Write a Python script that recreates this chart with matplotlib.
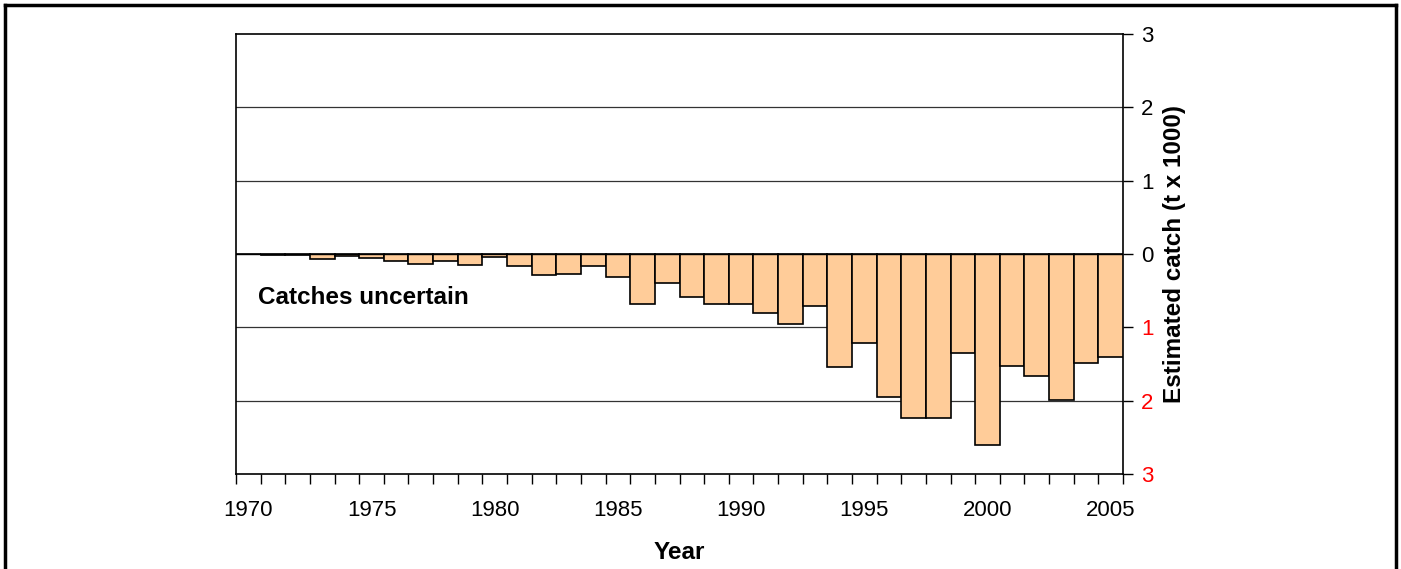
import matplotlib.pyplot as plt
import numpy as np
from matplotlib.lines import Line2D

plt.rcParams["font.family"] = ["Liberation Sans", "DejaVu Sans"]

years = list(range(1970, 2006))
# estimated catch (t x 1000), plotted downwards
catch = [0.00, 0.02, 0.02, 0.07, 0.03, 0.05, 0.09, 0.13, 0.09, 0.15,
         0.045, 0.17, 0.29, 0.27, 0.16, 0.31, 0.68, 0.39, 0.58, 0.68,
         0.68, 0.81, 0.96, 0.71, 1.54, 1.21, 1.95, 2.23, 2.24, 1.35,
         2.60, 1.53, 1.66, 1.99, 1.49, 1.41]
label_years = [1970, 1975, 1980, 1985, 1990, 1995, 2000, 2005]
y_ticks = [-3, -2, -1, 0, 1, 2, 3]

fig = plt.figure(figsize=(14.01, 5.69), dpi=100)
ax = fig.add_axes([236 / 1401, 1 - 474 / 569, 887 / 1401, 440 / 569])

x = np.arange(len(years))
ax.bar(x, [-c for c in catch], width=1.0, color="#FFCC99",
       edgecolor="black", linewidth=1.2, zorder=3)

# gridlines
for v in [-2, -1, 1, 2]:
    ax.axhline(v, color="#333333", linewidth=0.9, zorder=1)
ax.axhline(0, color="black", linewidth=1.0, zorder=4)

ax.set_xlim(-0.5, len(years) - 0.5)
ax.set_ylim(-3, 3)

# category boundaries as ticks, labels at category centres
ax.set_xticks(np.arange(-0.5, len(years), 1.0))
ax.set_xticklabels([])
ax.tick_params(axis="x", which="major", direction="out", length=7, width=1.0)
ax.set_xticks([years.index(y) for y in label_years], minor=True)
ax.set_xticklabels([str(y) for y in label_years], minor=True, fontsize=16)
ax.tick_params(axis="x", which="minor", length=0, pad=19)

ax.yaxis.tick_right()
ax.yaxis.set_label_position("right")
ax.set_yticks(y_ticks)
ax.set_yticklabels([str(abs(v)) for v in y_ticks], fontsize=16)
for lab, v in zip(ax.get_yticklabels(), y_ticks):
    if v < 0:
        lab.set_color("red")
ax.tick_params(axis="y", direction="out", length=7, width=1.0, pad=6)

for sp in ax.spines.values():
    sp.set_linewidth(1.2)

ax.set_xlabel("Year", fontsize=17.5, fontweight="bold", labelpad=14)
ax.set_ylabel("Estimated catch (t x 1000)", fontsize=17.5, fontweight="bold", labelpad=7)

ax.text(0.025, 0.40, "Catches uncertain", transform=ax.transAxes,
        fontsize=17.5, fontweight="bold", va="center", ha="left")

# outer frame (left, top, right)
fig.add_artist(Line2D([5 / 1401, 5 / 1401], [0, 1 - 5 / 569], color="black", lw=2.5))
fig.add_artist(Line2D([5 / 1401, 1396 / 1401], [1 - 5 / 569, 1 - 5 / 569], color="black", lw=2.5))
fig.add_artist(Line2D([1396 / 1401, 1396 / 1401], [0, 1 - 5 / 569], color="black", lw=2.5))

plt.savefig("out.png", dpi=100)
